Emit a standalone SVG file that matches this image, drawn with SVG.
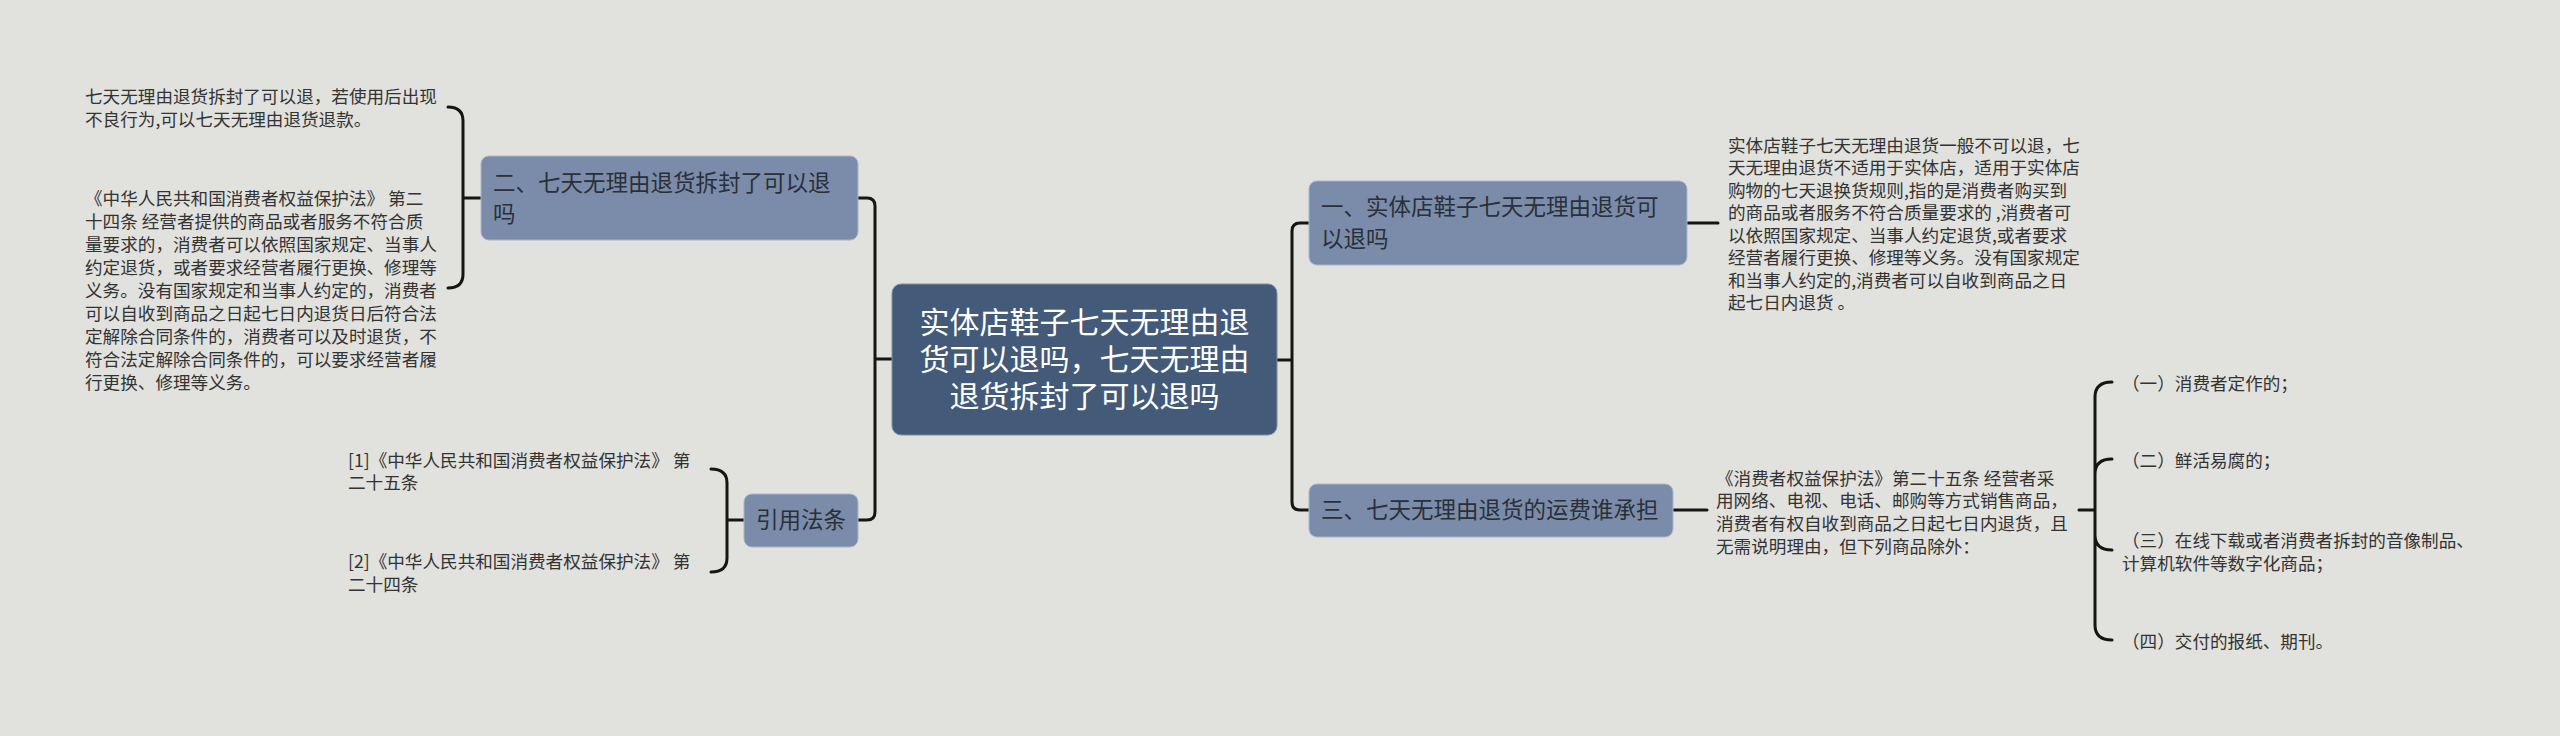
<svg xmlns="http://www.w3.org/2000/svg" width="2560" height="736" viewBox="0 0 2560 736">
<style>
.t{font-family:"Noto Sans CJK SC","Noto Sans",sans-serif;font-size:17.6px;fill:#333}
.n{font-family:"Noto Sans CJK SC","Noto Sans",sans-serif;font-size:22.5px;fill:#2b2f38}
.c{font-family:"Noto Sans CJK SC","Noto Sans",sans-serif;font-size:30px;fill:#fff}
.sec{fill:#7a8ca9;stroke:#aab6c8;stroke-width:1}
.cen{fill:#435a79;stroke:#7f90a8;stroke-width:1}
.ln{fill:none;stroke:#151515;stroke-width:3;stroke-linecap:round}
</style>
<rect width="2560" height="736" fill="#e1e1dd"/>
<g id="connectors">
<path class="ln" d="M858,198 H867 Q875,198 875,206 V512 Q875,520 867,520 H858 M875,359 H892"/>
<path class="ln" d="M1309,223 H1300 Q1292,223 1292,231 V502 Q1292,510 1300,510 H1309 M1276,360 H1292"/>
<path class="ln" d="M448,107 Q463,107 463,121 V274 Q463,288 448,288 M463,198 H481"/>
<path class="ln" d="M711,469 Q727,469 727,483 V558 Q727,572 711,572 M727,520 H744"/>
<path class="ln" d="M1687,223 H1718"/>
<path class="ln" d="M1673,510 H1707"/>
<path class="ln" d="M2079,510 H2095 M2112,382 Q2095,382 2095,397 V625 Q2095,640 2112,640 M2112,459 Q2095,459 2095,474 M2112,550 Q2095,550 2095,535"/>
</g>
<g id="central">
<rect class="cen" x="892" y="284" width="385" height="151" rx="9"/>
<text class="c" text-anchor="middle" x="1084.5" y="333">实体店鞋子七天无理由退</text>
<text class="c" text-anchor="middle" x="1084.5" y="370">货可以退吗，七天无理由</text>
<text class="c" text-anchor="middle" x="1084.5" y="407">退货拆封了可以退吗</text>
</g>
<g id="node-er">
<rect class="sec" x="481" y="156" width="377" height="84" rx="8"/>
<text class="n" x="493" y="191">二、七天无理由退货拆封了可以退</text>
<text class="n" x="493" y="222">吗</text>
</g>
<g id="node-er-text1">
<text class="t" x="85" y="103">七天无理由退货拆封了可以退，若使用后出现</text>
<text class="t" x="85" y="126">不良行为,可以七天无理由退货退款。</text>
</g>
<g id="node-er-text2">
<text class="t" x="85" y="205">《中华人民共和国消费者权益保护法》 第二</text>
<text class="t" x="85" y="228">十四条 经营者提供的商品或者服务不符合质</text>
<text class="t" x="85" y="251">量要求的，消费者可以依照国家规定、当事人</text>
<text class="t" x="85" y="274">约定退货，或者要求经营者履行更换、修理等</text>
<text class="t" x="85" y="297">义务。没有国家规定和当事人约定的，消费者</text>
<text class="t" x="85" y="320">可以自收到商品之日起七日内退货日后符合法</text>
<text class="t" x="85" y="343">定解除合同条件的，消费者可以及时退货，不</text>
<text class="t" x="85" y="366">符合法定解除合同条件的，可以要求经营者履</text>
<text class="t" x="85" y="389">行更换、修理等义务。</text>
</g>
<g id="node-law">
<rect class="sec" x="744" y="494" width="114" height="53" rx="8"/>
<text class="n" text-anchor="middle" x="801" y="528">引用法条</text>
</g>
<g id="node-law-1">
<text class="t" x="348" y="466.5">[1]《中华人民共和国消费者权益保护法》 第</text>
<text class="t" x="348" y="489">二十五条</text>
</g>
<g id="node-law-2">
<text class="t" x="348" y="568">[2]《中华人民共和国消费者权益保护法》 第</text>
<text class="t" x="348" y="591">二十四条</text>
</g>
<g id="node-yi">
<rect class="sec" x="1309" y="181" width="378" height="84" rx="8"/>
<text class="n" x="1321" y="215">一、实体店鞋子七天无理由退货可</text>
<text class="n" x="1321" y="247">以退吗</text>
</g>
<g id="node-yi-text">
<text class="t" x="1728" y="151.5">实体店鞋子七天无理由退货一般不可以退，七</text>
<text class="t" x="1728" y="174">天无理由退货不适用于实体店，适用于实体店</text>
<text class="t" x="1728" y="196.5">购物的七天退换货规则,指的是消费者购买到</text>
<text class="t" x="1728" y="219">的商品或者服务不符合质量要求的 ,消费者可</text>
<text class="t" x="1728" y="241.5">以依照国家规定、当事人约定退货,或者要求</text>
<text class="t" x="1728" y="264">经营者履行更换、修理等义务。没有国家规定</text>
<text class="t" x="1728" y="286.5">和当事人约定的,消费者可以自收到商品之日</text>
<text class="t" x="1728" y="309">起七日内退货 。</text>
</g>
<g id="node-san">
<rect class="sec" x="1309" y="484" width="364" height="53" rx="8"/>
<text class="n" x="1321" y="518">三、七天无理由退货的运费谁承担</text>
</g>
<g id="node-san-text">
<text class="t" x="1716" y="484.5">《消费者权益保护法》第二十五条 经营者采</text>
<text class="t" x="1716" y="507">用网络、电视、电话、邮购等方式销售商品，</text>
<text class="t" x="1716" y="530">消费者有权自收到商品之日起七日内退货，且</text>
<text class="t" x="1716" y="552.5">无需说明理由，但下列商品除外：</text>
</g>
<g id="item-1"><text class="t" x="2122" y="390">（一）消费者定作的；</text></g>
<g id="item-2"><text class="t" x="2122" y="466.5">（二）鲜活易腐的；</text></g>
<g id="item-3">
<text class="t" x="2122" y="546.5">（三）在线下载或者消费者拆封的音像制品、</text>
<text class="t" x="2122" y="569.5">计算机软件等数字化商品；</text>
</g>
<g id="item-4"><text class="t" x="2122" y="648">（四）交付的报纸、期刊。</text></g>
</svg>
